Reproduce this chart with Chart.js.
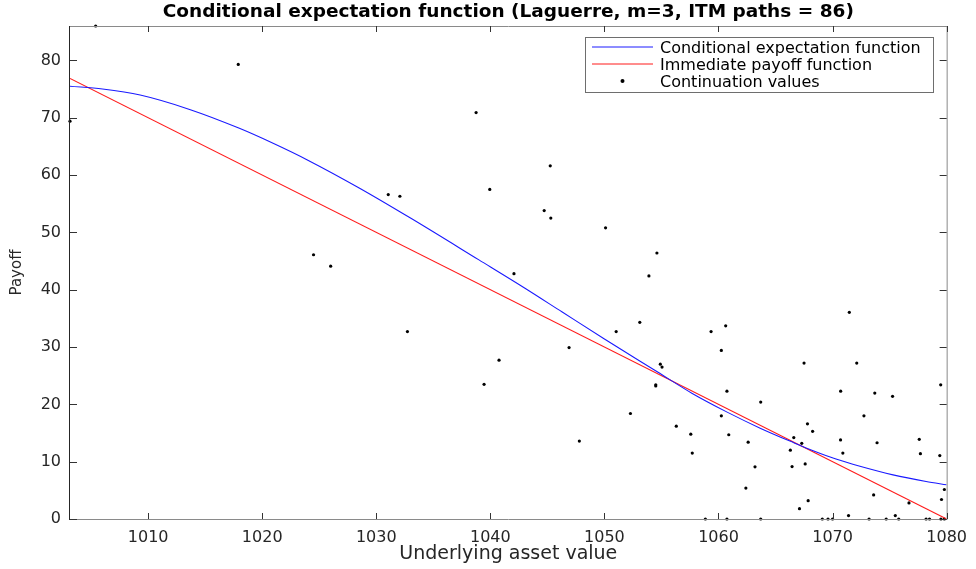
<!DOCTYPE html>
<html>
<head>
<meta charset="utf-8">
<script src="https://cdn.jsdelivr.net/npm/chart.js@4.4.1/dist/chart.umd.min.js"></script>
<style>
  html, body { margin: 0; padding: 0; background: #fff; }
</style>
</head>
<body>
<canvas id="cefChart" width="976" height="569"></canvas>
<script>
// Conditional expectation curve
var cefX = [1003.15, 1006, 1009.3, 1013.7, 1018, 1021, 1024, 1028.5, 1033, 1039, 1043, 1046.3, 1050,
            1054.7, 1057.7, 1060.8, 1063.7, 1066.6, 1068.3, 1070.3, 1072.4, 1075.3, 1078.2, 1080];
var cefY = [75.5, 75.0, 73.95, 71.4, 68.15, 65.5, 62.6, 57.75, 52.5, 45.2, 40.3, 36.1, 31.4,
            25.6, 21.9, 18.6, 15.8, 13.3, 11.9, 10.45, 9.2, 7.7, 6.55, 5.97];

// Immediate payoff (straight line)
var payoffX = [1003.15, 1080];
var payoffY = [76.85, 0];

// Continuation values (scatter)
var contX = [1003.15, 1005.4, 1017.9, 1024.5, 1026.0, 1031.05, 1032.07, 1032.73, 1038.75, 1039.45,
             1039.95, 1040.76, 1042.07, 1044.72, 1045.25, 1045.3, 1046.9, 1047.8, 1050.1, 1051.03,
             1052.28, 1053.1, 1053.9, 1054.5, 1054.5, 1054.6, 1054.9, 1055.05, 1056.3, 1057.57,
             1057.7, 1058.85, 1059.35, 1060.25, 1060.25, 1060.63, 1060.74, 1060.74, 1060.9, 1062.4,
             1062.6, 1063.2, 1063.7, 1063.7, 1066.3, 1066.45, 1066.6, 1067.1, 1067.3, 1067.5,
             1067.6, 1067.8, 1067.86, 1068.25, 1069.1, 1069.6, 1070.0, 1070.7, 1070.71, 1070.9,
             1071.4, 1071.47, 1072.12, 1072.75, 1073.2, 1073.6, 1073.7, 1073.9, 1074.7, 1075.26,
             1075.5, 1075.8, 1076.7, 1077.6, 1077.7, 1078.2, 1078.5, 1079.4, 1079.48, 1079.5,
             1079.55, 1079.8, 1079.8];
var contY = [69.4, 86.0, 79.3, 46.1, 44.1, 56.6, 56.3, 32.7, 70.9, 23.5,
             57.5, 27.7, 42.8, 53.8, 61.6, 52.5, 29.9, 13.6, 50.8, 32.7,
             18.4, 34.3, 42.4, 23.4, 23.2, 46.4, 27.0, 26.5, 16.2, 14.8,
             11.5, 0, 32.7, 29.4, 18.0, 33.7, 22.3, 0, 14.7, 5.4,
             13.4, 9.1, 20.4, 0, 12.0, 9.15, 14.2, 1.8, 13.2, 27.2,
             9.6, 16.6, 3.2, 15.3, 0, 0, 0, 13.8, 22.3, 11.5,
             0.6, 36.05, 27.2, 18.0, 0, 4.2, 21.97, 13.3, 0, 21.4,
             0.6, 0, 2.8, 13.9, 11.4, 0, 0, 11.06, 23.4, 0,
             3.4, 5.15, 0];

var xTicks = [1010, 1020, 1030, 1040, 1050, 1060, 1070, 1080];
var yTicks = [0, 10, 20, 30, 40, 50, 60, 70, 80];

function toXY(xs, ys) {
    return xs.map(function(x, i) { return { x: x, y: ys[i] }; });
}

// box round the axes with inward ticks, like matlab
var matlabAxes = {
    id: 'matlabAxes',
    afterDraw: function(chart) {
        var ctx = chart.ctx, a = chart.chartArea;
        var xs = chart.scales.x, ys = chart.scales.y;
        ctx.save();
        ctx.lineWidth = 1;
        ctx.strokeStyle = '#8a8a8a';
        ctx.beginPath();
        ctx.moveTo(a.left, a.bottom + 0.5);
        ctx.lineTo(a.right + 0.5, a.bottom + 0.5);
        ctx.lineTo(a.right + 0.5, a.top + 0.5);
        ctx.lineTo(a.left, a.top + 0.5);
        ctx.stroke();
        ctx.strokeStyle = '#262626';
        ctx.beginPath();
        ctx.moveTo(a.left - 0.5, a.top);
        ctx.lineTo(a.left - 0.5, a.bottom + 1);
        ctx.stroke();
        ctx.strokeStyle = '#333';
        ctx.beginPath();
        xs.ticks.forEach(function(t) {
            var px = Math.round(xs.getPixelForValue(t.value)) + 0.5;
            ctx.moveTo(px, a.bottom); ctx.lineTo(px, a.bottom - 6);
            ctx.moveTo(px, a.top); ctx.lineTo(px, a.top + 6);
        });
        ys.ticks.forEach(function(t) {
            var py = Math.round(ys.getPixelForValue(t.value)) + 0.5;
            ctx.moveTo(a.left, py); ctx.lineTo(a.left + 7, py);
            ctx.moveTo(a.right, py); ctx.lineTo(a.right - 7, py);
        });
        ctx.stroke();
        ctx.restore();
    }
};

// legend box in the top right corner
var matlabLegend = {
    id: 'matlabLegend',
    afterDraw: function(chart) {
        var ctx = chart.ctx;
        var box = { x: 585, y: 37, w: 348, h: 55 };
        ctx.save();
        ctx.fillStyle = '#fff';
        ctx.fillRect(box.x, box.y, box.w, box.h);
        ctx.strokeStyle = '#6e6e6e';
        ctx.lineWidth = 1;
        ctx.strokeRect(box.x + 0.5, box.y + 0.5, box.w, box.h);
        ctx.font = '16px "DejaVu Sans"';
        ctx.textBaseline = 'middle';
        chart.data.datasets.forEach(function(ds, i) {
            var y = box.y + 10 + i * 17;
            if (ds.showLine) {
                ctx.strokeStyle = ds.borderColor;
                ctx.lineWidth = 1;
                ctx.beginPath();
                ctx.moveTo(592, y); ctx.lineTo(653, y);
                ctx.stroke();
            } else {
                ctx.fillStyle = '#000';
                ctx.beginPath();
                ctx.arc(622.5, y, 2, 0, Math.PI * 2);
                ctx.fill();
            }
            ctx.fillStyle = '#000';
            ctx.fillText(ds.label, 660, y + 1.5);
        });
        ctx.restore();
    }
};

var ctx = document.getElementById('cefChart').getContext('2d');

var cefChart = new Chart(ctx, {
    type: 'scatter',
    data: {
        datasets: [{
            label: 'Conditional expectation function',
            data: toXY(cefX, cefY),
            showLine: true,
            borderColor: '#1a1aff',
            borderWidth: 1.1,
            pointRadius: 0,
            cubicInterpolationMode: 'monotone'
        }, {
            label: 'Immediate payoff function',
            data: toXY(payoffX, payoffY),
            showLine: true,
            borderColor: '#ff1a1a',
            borderWidth: 1.1,
            pointRadius: 0
        }, {
            label: 'Continuation values',
            data: toXY(contX, contY),
            showLine: false,
            pointRadius: 1.6,
            backgroundColor: '#000',
            borderWidth: 0,
            clip: false
        }]
    },
    options: {
        responsive: false,
        animation: false,
        devicePixelRatio: 1,
        layout: { padding: { left: 0, right: 26, top: 0, bottom: 0 } },
        plugins: {
            legend: { display: false },
            tooltip: { enabled: false },
            title: {
                display: true,
                fullSize: false,
                text: 'Conditional expectation function (Laguerre, m=3, ITM paths = 86)',
                color: '#000',
                font: { family: 'DejaVu Sans', size: 18.5, weight: 'bold', lineHeight: 1.2 },
                padding: { top: 1.5, bottom: 2.3 }
            }
        },
        scales: {
            x: {
                type: 'linear',
                min: 1003.15,
                max: 1080,
                grid: { display: false, drawTicks: false },
                border: { display: false },
                afterBuildTicks: function(s) {
                    s.ticks = xTicks.map(function(v) { return { value: v }; });
                },
                afterFit: function(s) { s.height = 50; },
                ticks: {
                    autoSkip: false,
                    maxRotation: 0,
                    padding: 9,
                    color: '#262626',
                    font: { family: 'DejaVu Sans', size: 16 },
                    callback: function(v) { return String(v); }
                },
                title: {
                    display: true,
                    text: 'Underlying asset value',
                    color: '#262626',
                    font: { family: 'DejaVu Sans', size: 19, lineHeight: 1.2 },
                    padding: { top: 0, bottom: 3.6 }
                }
            },
            y: {
                min: 0,
                max: 86,
                grid: { display: false, drawTicks: false },
                border: { display: false },
                afterBuildTicks: function(s) {
                    s.ticks = yTicks.map(function(v) { return { value: v }; });
                },
                afterFit: function(s) { s.width = 70; },
                ticks: {
                    autoSkip: false,
                    padding: 9,
                    color: '#262626',
                    font: { family: 'DejaVu Sans', size: 16 },
                    callback: function(v) { return String(v); }
                },
                title: {
                    display: true,
                    text: 'Payoff',
                    color: '#262626',
                    font: { family: 'DejaVu Sans', size: 15, lineHeight: 1.2 },
                    padding: { top: 8, bottom: 0 }
                }
            }
        }
    },
    plugins: [matlabAxes, matlabLegend]
});
</script>
</body>
</html>
